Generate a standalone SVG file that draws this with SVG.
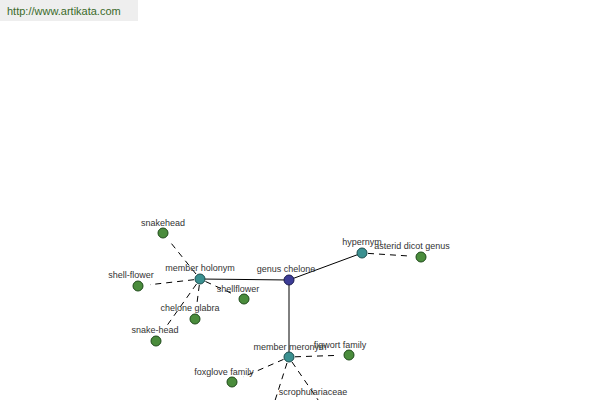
<svg xmlns="http://www.w3.org/2000/svg" width="600" height="400" viewBox="0 0 600 400">
<style>
.lbl{font-family:"Liberation Sans",Arial,sans-serif;font-size:9px;fill:#333;text-anchor:middle}
.g{fill:#4a8c3c;stroke:#1e4a1a;stroke-width:1}
.t{fill:#3a9090;stroke:#1d4e4e;stroke-width:1}
.b{fill:#3c3c96;stroke:#1c1c50;stroke-width:1}
.solid{stroke:#000;stroke-width:1;fill:none}
.dash{stroke:#000;stroke-width:1;fill:none;stroke-dasharray:6,5}
</style>
<rect width="600" height="400" fill="#fff"/>
<g id="watermark">
<rect x="0" y="0" width="138" height="21" fill="#eeeeee"/>
<text x="7" y="15" font-family="Liberation Sans,Arial,sans-serif" font-size="11" fill="#3a6a2a">http://www.artikata.com</text>
</g>
<g id="connectors">
<line class="solid" x1="289" y1="280" x2="200" y2="279"/>
<line class="solid" x1="289" y1="280" x2="362" y2="253"/>
<line class="solid" x1="289" y1="280" x2="289" y2="357"/>
<line class="dash" x1="368" y1="253.4" x2="409" y2="256"/>
<line class="dash" x1="196" y1="274" x2="170.5" y2="242.4"/>
<line class="dash" x1="194" y1="279.7" x2="150" y2="284.7"/>
<line class="dash" x1="205.5" y1="281.5" x2="233" y2="294"/>
<line class="dash" x1="199.3" y1="285" x2="196.5" y2="307"/>
<line class="dash" x1="196.5" y1="284" x2="167.6" y2="324.7"/>
<line class="dash" x1="295" y1="356.8" x2="337" y2="355.4"/>
<line class="dash" x1="283.5" y1="359.4" x2="243" y2="377"/>
<line class="dash" x1="287" y1="363" x2="272" y2="410"/>
<line class="dash" x1="292" y1="362" x2="325" y2="410"/>
</g>
<g id="genus-chelone"><circle class="b" cx="289" cy="280" r="5"/><text class="lbl" x="286" y="272">genus chelone</text></g>
<g id="hypernym"><circle class="t" cx="362" cy="253" r="5"/><text class="lbl" x="362" y="245">hypernym</text></g>
<g id="asterid-dicot-genus"><circle class="g" cx="421" cy="257" r="5"/><text class="lbl" x="412" y="249">asterid dicot genus</text></g>
<g id="member-holonym"><circle class="t" cx="200" cy="279" r="5"/><text class="lbl" x="200" y="271">member holonym</text></g>
<g id="snakehead"><circle class="g" cx="163" cy="233" r="5"/><text class="lbl" x="163" y="226">snakehead</text></g>
<g id="shell-flower"><circle class="g" cx="138" cy="286" r="5"/><text class="lbl" x="131" y="278">shell-flower</text></g>
<g id="shellflower"><circle class="g" cx="244" cy="299" r="5"/><text class="lbl" x="238" y="292">shellflower</text></g>
<g id="chelone-glabra"><circle class="g" cx="195" cy="319" r="5"/><text class="lbl" x="190" y="311">chelone glabra</text></g>
<g id="snake-head"><circle class="g" cx="156" cy="341" r="5"/><text class="lbl" x="155" y="333">snake-head</text></g>
<g id="member-meronym"><circle class="t" cx="289" cy="357" r="5"/><text class="lbl" x="290" y="350">member meronym</text></g>
<g id="figwort-family"><circle class="g" cx="349" cy="355" r="5"/><text class="lbl" x="340" y="348">figwort family</text></g>
<g id="foxglove-family"><circle class="g" cx="232" cy="382" r="5"/><text class="lbl" x="224" y="375">foxglove family</text></g>
<g id="scrophulariaceae"><text class="lbl" x="313" y="395">scrophulariaceae</text></g>
</svg>
